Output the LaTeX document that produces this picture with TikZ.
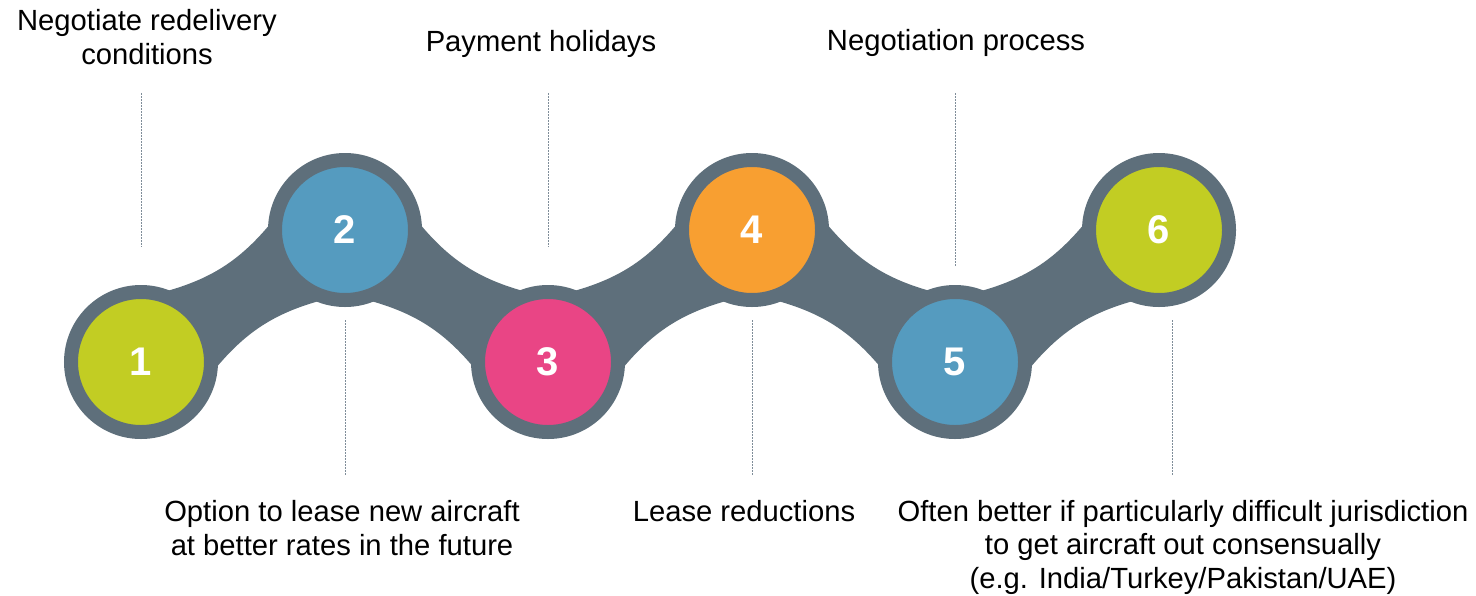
\documentclass[tikz,border=0pt]{standalone}
\usepackage{fontspec}
\setmainfont{Liberation Sans}
\usetikzlibrary{backgrounds}

\definecolor{ringgrey}{HTML}{5E6F7B}
\definecolor{guidegrey}{HTML}{7F8D99}
\definecolor{stepgreen}{HTML}{C2CD23}
\definecolor{stepblue}{HTML}{559BBF}
\definecolor{steppink}{HTML}{E94585}
\definecolor{steporange}{HTML}{F89F31}

\begin{document}
\begin{tikzpicture}[x=0.5pt,y=-0.5pt,
  stepdisc/.style={circle, minimum size=70pt, inner sep=0pt, outer sep=0pt,
    draw=ringgrey, line width=7pt, text=white,
    font=\bfseries\fontsize{20}{24}\selectfont},
  notetext/.style={align=center, inner sep=0pt, text=black,
    font=\fontsize{14.6}{16.75}\selectfont},
  guide/.style={draw=guidegrey, line width=0.5pt, dash pattern=on 1pt off 0.5pt},
  band/.style={fill=ringgrey}]

\useasboundingbox (0,0) rectangle (1476,595);

% the six steps
\node[stepdisc, fill=stepgreen]  (s1) at (141,362)  {1};
\node[stepdisc, fill=stepblue]   (s2) at (345,230)  {2};
\node[stepdisc, fill=steppink]   (s3) at (548,362)  {3};
\node[stepdisc, fill=steporange] (s4) at (752,230)  {4};
\node[stepdisc, fill=stepblue]   (s5) at (955,362)  {5};
\node[stepdisc, fill=stepgreen]  (s6) at (1159,230) {6};

% pinched bands linking consecutive steps
\begin{scope}[on background layer]
\foreach \a/\b/\r in {s1/s2/32.9, s2/s3/-32.9, s3/s4/32.9, s4/s5/-32.9, s5/s6/32.9}
  \fill[band, shift={(\a.center)}, rotate=\r]
    (0,45) -- (62,45) .. controls (105,32) and (138,32) .. (181,45) -- (243,45)
    -- (243,-45) -- (181,-45) .. controls (138,-32) and (105,-32) .. (62,-45)
    -- (0,-45) -- cycle;
\end{scope}

% captions above (anchored at the baseline of the last line)
\node[notetext, anchor=base] (t1) at (147,64) {Negotiate redelivery\\conditions};
\node[notetext, anchor=base] (t3) at (541,51) {Payment holidays};
\node[notetext, anchor=base] (t5) at (956,50) {Negotiation process};

% captions below
\node[notetext, anchor=base] (t2) at (342,555) {Option to lease new aircraft\\at better rates in the future};
\node[notetext, anchor=base] (t4) at (744,521) {Lease reductions};
\node[notetext, anchor=base] (t6) at (1183,588) {Often better if particularly difficult jurisdiction\\to get aircraft out consensually\\(e.g. India/Turkey/Pakistan/UAE)};

% dotted guides
\coordinate (g1a) at (141,93);  \coordinate (g1b) at (141,247);
\coordinate (g3a) at (548,93);  \coordinate (g3b) at (548,247);
\coordinate (g5a) at (955,93);  \coordinate (g5b) at (955,267);
\coordinate (g2a) at (345,320); \coordinate (g2b) at (345,475);
\coordinate (g4a) at (752,320); \coordinate (g4b) at (752,475);
\coordinate (g6a) at (1172,320); \coordinate (g6b) at (1172,475);
\draw[guide] (g1a) -- (g1b);
\draw[guide] (g3a) -- (g3b);
\draw[guide] (g5a) -- (g5b);
\draw[guide] (g2a) -- (g2b);
\draw[guide] (g4a) -- (g4b);
\draw[guide] (g6a) -- (g6b);
\end{tikzpicture}
\end{document}
